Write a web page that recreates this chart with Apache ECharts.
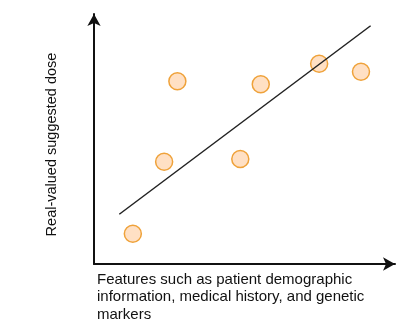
<!DOCTYPE html>
<html><head><meta charset="utf-8">
<script src="https://cdn.jsdelivr.net/npm/echarts@6/dist/echarts.min.js"></script>
<style>html,body{margin:0;padding:0;background:#fff}#c{width:407px;height:333px}</style>
</head><body><div id="c"></div>
<script>
var pointX = [12.9, 23.3, 27.7, 48.6, 55.4, 74.8, 88.7];
var pointY = [12.1, 40.9, 73.1, 42.0, 71.9, 80.1, 76.9];
var lineX = [8.4, 91.9];
var lineY = [19.9, 95.3];
var xLabel = "Features such as patient demographic\ninformation, medical history, and genetic\nmarkers";
var yLabel = "Real-valued suggested dose";

var chart = echarts.init(document.getElementById('c'), null, {renderer:'canvas'});
var font = '"Liberation Sans", Arial, Helvetica, sans-serif';
chart.setOption({
  animation:false,
  grid:{left:94, right:12, top:14, bottom:69},
  xAxis:{type:'value', min:0, max:100, splitLine:{show:false}, axisTick:{show:false}, axisLabel:{show:false},
    axisLine:{lineStyle:{color:'#111', width:2}, symbol:['none','arrow'], symbolSize:[10,12], symbolOffset:[0,0]}},
  yAxis:{type:'value', min:0, max:100, splitLine:{show:false}, axisTick:{show:false}, axisLabel:{show:false},
    axisLine:{lineStyle:{color:'#111', width:2}, symbol:['none','arrow'], symbolSize:[10,12]}},
  graphic:[
    {type:'text', left:97, top:271, style:{text:xLabel, font:'15px '+font, fill:'#111', lineHeight:17.5}},
    {type:'text', x:52, y:144.5, rotation:Math.PI/2, style:{text:yLabel, font:'14.5px '+font, fill:'#111', align:'center', verticalAlign:'middle'}}
  ],
  series:[
    {type:'line', data:lineX.map(function(x,i){return [x,lineY[i]];}), symbol:'none',
      lineStyle:{color:'#222', width:1.5}, z:3},
    {type:'scatter', data:pointX.map(function(x,i){return [x,pointY[i]];}), symbolSize:17,
      itemStyle:{color:'#FFE0C4', borderColor:'#EFA23A', borderWidth:1.5, opacity:1}, z:2}
  ]
});
</script></body></html>
